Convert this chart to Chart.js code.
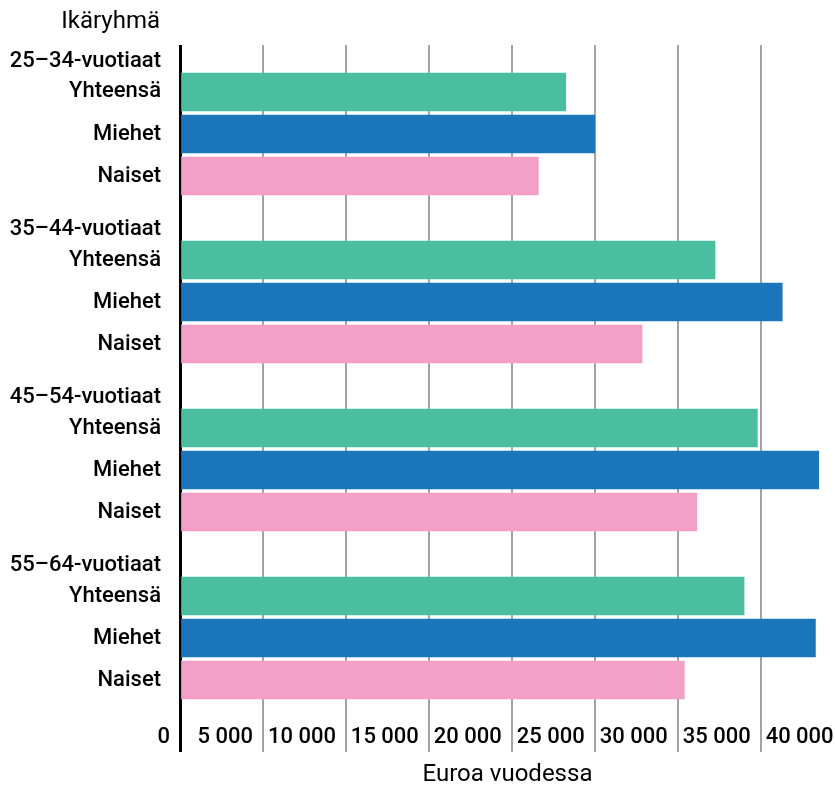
<!DOCTYPE html>
<html lang="fi">
<head>
<meta charset="utf-8">
<title>Ansiot ikäryhmittäin</title>
<script src="https://cdn.jsdelivr.net/npm/chart.js@4"></script>
<style>
  html, body { margin: 0; padding: 0; background: #fff; }
  #wrap { width: 835px; height: 787px; }
</style>
</head>
<body>
<div id="wrap"><canvas id="chart"></canvas></div>
<script>
// data
const ageGroups = ['25–34-vuotiaat', '35–44-vuotiaat', '45–54-vuotiaat', '55–64-vuotiaat'];
const seriesNames = ['Yhteensä', 'Miehet', 'Naiset'];
const totalValues = [23250, 32250, 34800, 34000];
const menValues = [25000, 36300, 38500, 38300];
const womenValues = [21600, 27850, 31150, 30400];
const xTickValues = [0, 5000, 10000, 15000, 20000, 25000, 30000, 35000, 40000];

const colors = ['#4cbea0', '#1b75bb', '#f3a0c6'];
const FONT = 'Roboto, "Noto Sans", sans-serif';

// each age group takes 4 rows: header, Yhteensä, Miehet, Naiset
const ROWS_PER_GROUP = 4;
const HEADER_SHIFT = 0.27;

function rowOf(group, serie) {
  return group * ROWS_PER_GROUP + 1 + serie;
}

// y ticks (row position -> label)
const yTicks = [];
ageGroups.forEach((name, g) => {
  yTicks.push({ value: g * ROWS_PER_GROUP + HEADER_SHIFT, label: name });
  seriesNames.forEach((s, i) => yTicks.push({ value: rowOf(g, i), label: s }));
});

function makeDataset(label, values, serie) {
  return {
    label: label,
    data: values.map((v, g) => ({ x: v, y: rowOf(g, serie) })),
    backgroundColor: colors[serie],
    borderWidth: 0,
    barThickness: 38,
    grouped: false
  };
}

function formatNumber(v) {
  return String(v).replace(/\B(?=(\d{3})+(?!\d))/g, '\u00a0');
}

const yTitlePlugin = {
  id: 'yTitle',
  afterDraw(chart) {
    const ctx = chart.ctx;
    ctx.save();
    ctx.font = '24px ' + FONT;
    ctx.fillStyle = '#000';
    ctx.textAlign = 'right';
    ctx.textBaseline = 'alphabetic';
    ctx.fillText('Ikäryhmä', chart.scales.y.right - 20, 28);
    ctx.restore();
  }
};

new Chart(document.getElementById('chart'), {
  type: 'bar',
  data: {
    datasets: [
      makeDataset(seriesNames[0], totalValues, 0),
      makeDataset(seriesNames[1], menValues, 1),
      makeDataset(seriesNames[2], womenValues, 2)
    ]
  },
  options: {
    indexAxis: 'y',
    responsive: true,
    maintainAspectRatio: false,
    animation: false,
    layout: { padding: { top: 45, right: 0, bottom: 0, left: 0 } },
    plugins: {
      legend: { display: false },
      tooltip: { enabled: false }
    },
    scales: {
      x: {
        type: 'linear',
        min: 0,
        max: 39480,   // 40 000 sits just past the right edge
        afterBuildTicks: (scale) => { scale.ticks = xTickValues.map(v => ({ value: v })); },
        afterFit: (scale) => { scale.height = 83; },
        grid: {
          drawTicks: true,
          tickLength: 48,
          color: (c) => c.tick && c.tick.value === 0 ? '#000' : '#a3a3a3',
          lineWidth: (c) => c.tick && c.tick.value === 0 ? 3 : 2
        },
        border: { display: false },
        ticks: {
          autoSkip: false,
          maxRotation: 0,
          align: 'end',
          labelOffset: -10,
          padding: -28,
          color: '#000',
          font: { family: FONT, size: 22, weight: 500 },
          callback: (v) => formatNumber(v)
        },
        title: {
          display: true,
          text: 'Euroa vuodessa',
          color: '#000',
          padding: { top: 0, bottom: -2 },
          font: { family: FONT, size: 24, weight: 400 }
        }
      },
      y: {
        type: 'linear',
        reverse: true,
        offset: false,
        min: -0.119,
        max: 15.571,
        afterBuildTicks: (scale) => { scale.ticks = yTicks.map(t => ({ value: t.value })); },
        afterFit: (scale) => { scale.width = 180; },
        grid: { display: false, drawTicks: false, offset: false },
        border: { display: false },
        ticks: {
          autoSkip: false,
          padding: 19,
          color: '#000',
          font: { family: FONT, size: 22, weight: 500 },
          callback: (v) => {
            const t = yTicks.find(t => Math.abs(t.value - v) < 1e-6);
            return t ? t.label : '';
          }
        }
      }
    }
  },
  plugins: [yTitlePlugin]
});
</script>
</body>
</html>
